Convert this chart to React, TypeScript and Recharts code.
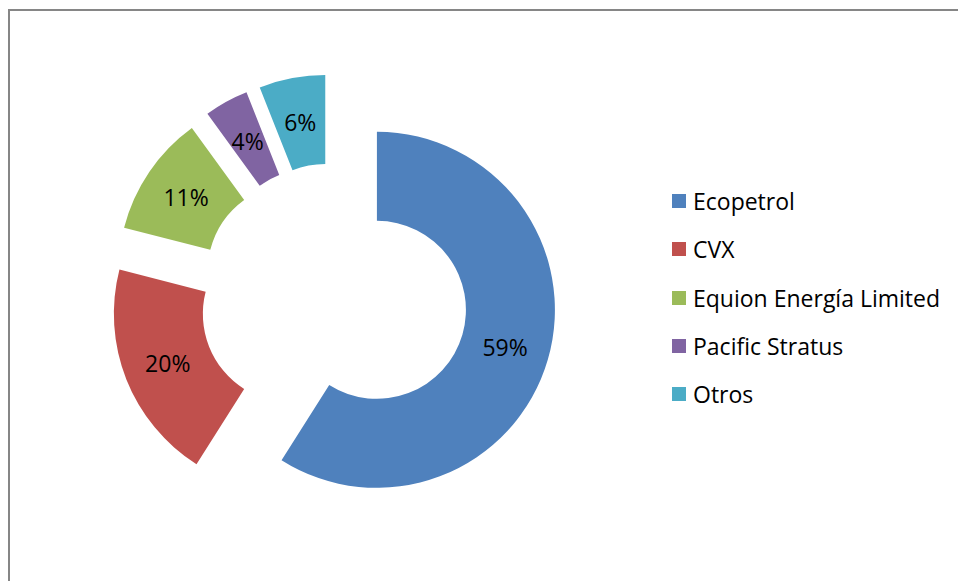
import { PieChart, Pie, Cell, Sector, Legend } from "recharts";

const companies = [
  "Ecopetrol",
  "CVX",
  "Equion Energía Limited",
  "Pacific Stratus",
  "Otros",
];
const shares = [59, 20, 11, 4, 6];
const sliceColors = ["#4F81BD", "#C0504D", "#9BBB59", "#8064A2", "#4BACC6"];

const data = companies.map((name, i) => ({ name, value: shares[i] }));

const RAD = Math.PI / 180;
const EXPLODE = 45;
const FONT = "'Open Sans', 'Noto Sans', sans-serif";

const shift = (midAngle: number, d: number) => ({
  dx: d * Math.cos(-midAngle * RAD),
  dy: d * Math.sin(-midAngle * RAD),
});

const ExplodedSector = (props: any) => {
  const { dx, dy } = shift(props.midAngle, EXPLODE);
  return (
    <Sector
      cx={props.cx + dx}
      cy={props.cy + dy}
      innerRadius={props.innerRadius}
      outerRadius={props.outerRadius}
      startAngle={props.startAngle}
      endAngle={props.endAngle}
      fill={props.fill}
      stroke="none"
    />
  );
};

const renderLabel = (props: any) => {
  const { cx, cy, midAngle, innerRadius, outerRadius, percent } = props;
  const r = EXPLODE + (innerRadius + outerRadius) / 2;
  const { dx, dy } = shift(midAngle, r);
  return (
    <text
      x={cx + dx}
      y={cy + dy}
      textAnchor="middle"
      dominantBaseline="central"
      fill="#000"
      style={{ fontFamily: FONT, fontSize: 23 }}
    >
      {Math.round(percent * 100)}%
    </text>
  );
};

// legend keeps the data order (Recharts would sort it by name)
const LegendList = () => (
  <div style={{ fontFamily: FONT, fontSize: 23, color: "#000" }}>
    {companies.map((name, i) => (
      <div
        key={name}
        style={{
          display: "flex",
          alignItems: "center",
          height: 48.3,
          whiteSpace: "nowrap",
        }}
      >
        <span
          style={{
            width: 14,
            height: 14,
            background: sliceColors[i],
            marginRight: 7,
            display: "inline-block",
          }}
        />
        <span>{name}</span>
      </div>
    ))}
  </div>
);

const App = () => {
  return (
    <>
      <style>{"html,body{overflow:hidden}"}</style>
      <div
        style={{
          position: "fixed",
          left: 8,
          top: 9,
          width: 960,
          height: 580,
          borderTop: "2px solid #868686",
          borderLeft: "2px solid #868686",
          background: "#fff",
          overflow: "hidden",
        }}
      >
        <PieChart
          width={940}
          height={565}
          margin={{ top: 0, right: 0, bottom: 0, left: 0 }}
        >
          <Pie
            data={data}
            dataKey="value"
            nameKey="name"
            cx={323.7}
            cy={286.3}
            innerRadius={89}
            outerRadius={178}
            startAngle={90}
            endAngle={-270}
            stroke="none"
            shape={ExplodedSector}
            label={renderLabel}
            labelLine={false}
            isAnimationActive={false}
          >
            {data.map((d, i) => (
              <Cell key={d.name} fill={sliceColors[i]} />
            ))}
          </Pie>
          <Legend
            layout="vertical"
            align="right"
            verticalAlign="middle"
            content={LegendList}
            wrapperStyle={{ left: 662, top: 166, right: "auto", width: 278 }}
          />
        </PieChart>
      </div>
    </>
  );
};

export default App;
